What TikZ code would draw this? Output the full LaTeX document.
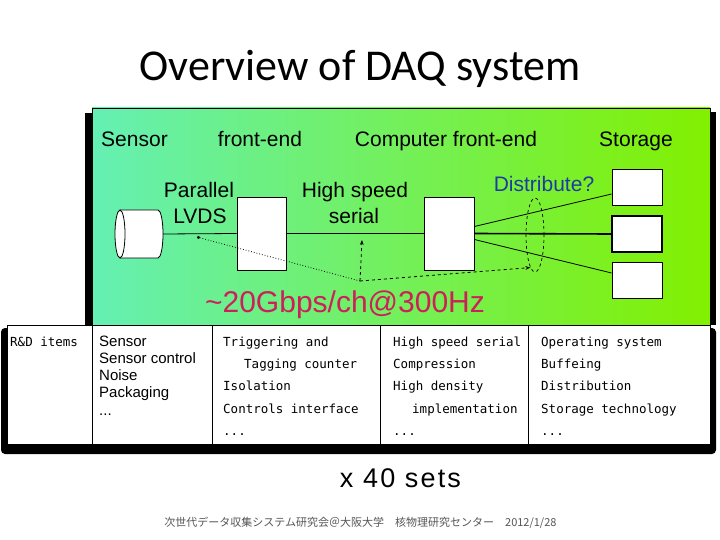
\documentclass[tikz,border=0pt]{standalone}
\usepackage{fontspec}
\setmainfont{Liberation Sans}
\newfontfamily\titlefont{Carlito}
\newfontfamily\jpfont{Noto Sans CJK JP}
\newfontfamily\tabfont{DejaVu Sans Mono}
\usetikzlibrary{shapes.geometric,arrows.meta}
\definecolor{aqua}{RGB}{100,240,180}
\definecolor{lime}{RGB}{130,240,0}
\definecolor{crim}{RGB}{204,32,90}
\definecolor{dblue}{RGB}{30,60,160}
\definecolor{foot}{RGB}{85,85,85}
\begin{document}
\begin{tikzpicture}[x=1pt,y=-1pt,
  txt/.style={inner sep=0pt, anchor=base},
  lab/.style={txt, font=\fontsize{21}{24}\selectfont},
  col/.style={inner sep=0pt, anchor=base west, font=\fontsize{15}{17}\selectfont},
  tab/.style={inner sep=0pt, anchor=base west, font=\tabfont\fontsize{12.5}{14}\selectfont},
  box/.style={draw=black, fill=white, line width=0.8pt, inner sep=0pt},
  wire/.style={line width=0.8pt}]
\useasboundingbox (0,0) rectangle (720,540);

% title
\node[txt, font=\titlefont\fontsize{44}{50}\selectfont] (title) at (360,81) {Overview of DAQ system};

% green panel with side shadows
\fill[black] (85,113) rectangle (92,325);
\fill[black] (710,112) rectangle (716,325);
\path[left color=aqua, right color=lime, draw=black, line width=0.8pt] (92,108) rectangle (710,325);

% headings
\node[lab] (hsen) at (134.5,147) {Sensor};
\node[lab] (hfe)  at (260,147) {front-end};
\node[lab] (hcfe) at (446,147) {Computer front-end};
\node[lab] (hst)  at (636,147) {Storage};
\node[lab] (par)  at (199,197) {Parallel};
\node[lab] (lvds) at (200,224) {LVDS};
\node[lab] (hsp)  at (355,197) {High speed};
\node[lab] (ser)  at (354,224) {serial};
\node[txt, font=\fontsize{21}{24}\selectfont, text=dblue] (dis) at (544,192) {Distribute?};
\node[txt, font=\fontsize{30}{34}\selectfont, text=crim] (rate) at (345,312) {\char"7E\relax 20Gbps/ch@300Hz};

% sensor cylinder
\path[fill=white, draw=black, line width=0.8pt] (120,210) -- (158,210)
  .. controls (160.76,210) and (163,220.75) .. (163,234)
  .. controls (163,247.25) and (160.76,258) .. (158,258) -- (120,258);
\draw[fill=white, line width=0.8pt] (120,234) ellipse (5 and 24);
\coordinate (cyl) at (163,234);

% boxes
\node[box, minimum width=49pt, minimum height=73pt] (fe) at (261.5,233.5) {};
\node[box, minimum width=50pt, minimum height=73pt] (cfe) at (449,233.5) {};
\node[box, minimum width=50pt, minimum height=36pt] (st1) at (637,187) {};
\node[box, line width=1.6pt, minimum width=50pt, minimum height=36pt] (st2) at (637,234) {};
\node[box, minimum width=50pt, minimum height=36pt] (st3) at (637,280) {};

% connections
\draw[wire] (cyl) -- (fe.west);
\draw[wire] (fe.east) -- (cfe.west);
\draw[line width=1.6pt] (cfe.east) -- (st2.west);
\draw[wire] ([yshift=7pt]cfe.east) -- ([yshift=-7pt]st1.west);
\draw[wire] ([yshift=-6pt]cfe.east) -- ([yshift=7pt]st3.west);

% distribute ellipse
\node[ellipse, draw=black, dashed, line width=0.7pt, minimum width=18pt, minimum height=74pt, inner sep=0pt] (dist) at (535,235) {};

% rate pointers
\coordinate (J) at (360,281);
\coordinate (lv) at (197,237);
\coordinate (hs) at (362,240);
\draw[line width=0.8pt, dotted, -{Circle[length=3pt]}] (J) -- (lv);
\draw[line width=0.8pt, dash pattern=on 3pt off 3pt, -{Stealth[length=5pt]}] (J) -- (hs);
\draw[line width=0.8pt, dash pattern=on 3pt off 3pt, -{Stealth[length=5pt]}] (J) -- (dist.262);

% table
\fill[black, rounded corners=4pt] (1,328) rectangle (716,454);
\draw[fill=white, line width=0.8pt] (7,325) rectangle (710,444);
\foreach \xx in {92,212,380,528} \draw[line width=0.8pt] (\xx,325) -- (\xx,444);

\node[tab] (rd) at (10,346) {R\&D items};

\node[col] (c2a) at (99,346) {Sensor};
\node[col] (c2b) at (99,363) {Sensor control};
\node[col] (c2c) at (99,380) {Noise};
\node[col] (c2d) at (99,397) {Packaging};
\node[col] (c2e) at (99,415) {...};

\node[tab] (c3a) at (223,346) {Triggering and};
\node[tab] (c3b) at (244,368) {Tagging counter};
\node[tab] (c3c) at (223,390) {Isolation};
\node[tab] (c3d) at (223,413) {Controls interface};
\node[tab] (c3e) at (223,435) {...};

\node[tab] (c4a) at (393,346) {High speed serial};
\node[tab] (c4b) at (393,368) {Compression};
\node[tab] (c4c) at (393,390) {High density};
\node[tab] (c4d) at (412,413) {implementation};
\node[tab] (c4e) at (393,435) {...};

\node[tab] (c5a) at (541,346) {Operating system};
\node[tab] (c5b) at (541,368) {Buffeing};
\node[tab] (c5c) at (541,390) {Distribution};
\node[tab] (c5d) at (541,413) {Storage technology};
\node[tab] (c5e) at (541,435) {...};

% bottom texts
\node[txt, font=\fontsize{27}{30}\selectfont\addfontfeature{LetterSpace=8}] (sets) at (400.5,487) {x 40 sets};
\node[txt, font=\jpfont\fontsize{11}{13}\selectfont, text=foot] (footer) at (360.5,526) {次世代データ収集システム研究会＠大阪大学　核物理研究センター　2012/1/28};
\end{tikzpicture}
\end{document}
